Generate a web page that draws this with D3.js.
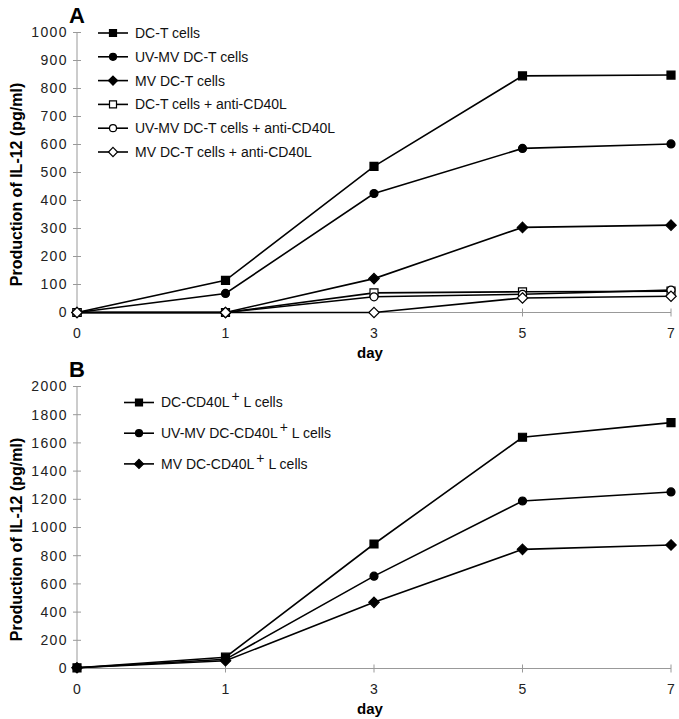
<!DOCTYPE html>
<html>
<head>
<meta charset="utf-8">
<script src="https://cdn.jsdelivr.net/npm/d3@7"></script>
<style>
  body { margin: 0; background: #fff; }
  svg { font-family: "Liberation Sans", Arial, sans-serif; }
</style>
</head>
<body>
<div id="chart"></div>
<script>
// days are drawn as evenly spaced categories
const days = ['0', '1', '3', '5', '7'];

// panel A
const namesA = [
    'DC-T cells',
    'UV-MV DC-T cells',
    'MV DC-T cells',
    'DC-T cells + anti-CD40L',
    'UV-MV DC-T cells + anti-CD40L',
    'MV DC-T cells + anti-CD40L'
];
const dcT = [0, 115, 522, 845, 848];
const uvmvDcT = [0, 68, 425, 586, 602];
const mvDcT = [0, 0, 121, 304, 312];
const dcTAnti = [0, 0, 70, 74, 76];
const uvmvDcTAnti = [0, 0, 56, 65, 80];
const mvDcTAnti = [0, 0, 0, 52, 58];
const ticksA = [0, 100, 200, 300, 400, 500, 600, 700, 800, 900, 1000];

// panel B
const namesB = [
    'DC-CD40L',
    'UV-MV DC-CD40L',
    'MV DC-CD40L'
];
const dcL = [5, 80, 883, 1640, 1744];
const uvmvDcL = [5, 65, 655, 1188, 1252];
const mvDcL = [5, 55, 469, 845, 876];
const ticksB = [0, 200, 400, 600, 800, 1000, 1200, 1400, 1600, 1800, 2000];

const markers = ['square', 'circle', 'diamond', 'square', 'circle', 'diamond'];
const filled = [true, true, true, false, false, false];

const svg = d3.select('#chart').append('svg')
    .attr('width', 679)
    .attr('height', 719);

function drawMarker(g, type, fill, x, y, s) {
    const m = g.append('path')
        .attr('transform', `translate(${x},${y})`)
        .attr('fill', fill ? '#000' : '#fff')
        .attr('stroke', '#000')
        .attr('stroke-width', 1.2);
    if (type === 'square') {
        m.attr('d', `M${-s},${-s}H${s}V${s}H${-s}Z`);
    } else if (type === 'circle') {
        m.attr('d', d3.symbol(d3.symbolCircle, Math.PI * s * s)());
    } else {
        const r = s * 1.3;
        m.attr('d', `M0,${-r}L${r},0L0,${r}L${-r},0Z`);
    }
}

function panel(cfg) {
    const g = svg.append('g');
    const x = d3.scalePoint().domain(days).range([77, 671]);
    const y = d3.scaleLinear().domain([0, cfg.max]).range([cfg.bottom, cfg.top]);

    // y axis
    g.append('line')
        .attr('x1', 77).attr('x2', 77)
        .attr('y1', y(cfg.max)).attr('y2', y(0))
        .attr('stroke', '#999').attr('stroke-width', 1);
    cfg.ticks.forEach(t => {
        g.append('line')
            .attr('x1', 73).attr('x2', 81)
            .attr('y1', y(t)).attr('y2', y(t))
            .attr('stroke', '#999');
        g.append('text')
            .attr('x', 68).attr('y', y(t))
            .attr('dy', '0.35em')
            .attr('text-anchor', 'end')
            .attr('font-size', 14)
            .attr('letter-spacing', 1.4)
            .attr('fill', '#222')
            .text(t);
    });

    // x axis
    g.append('line')
        .attr('x1', 77).attr('x2', 671)
        .attr('y1', y(0)).attr('y2', y(0))
        .attr('stroke', '#999');
    days.forEach(d => {
        g.append('line')
            .attr('x1', x(d)).attr('x2', x(d))
            .attr('y1', y(0) - 4).attr('y2', y(0) + 4)
            .attr('stroke', '#999');
        g.append('text')
            .attr('x', x(d)).attr('y', y(0) + 25)
            .attr('text-anchor', 'middle')
            .attr('font-size', 14)
            .attr('fill', '#222')
            .text(d);
    });
    g.append('text')
        .attr('x', 370).attr('y', y(0) + 45)
        .attr('text-anchor', 'middle')
        .attr('font-size', 15)
        .attr('font-weight', 'bold')
        .text('day');

    g.append('text')
        .attr('transform', `translate(22,${(y(0) + y(cfg.max)) / 2 + 12}) rotate(-90)`)
        .attr('text-anchor', 'middle')
        .attr('font-size', 16)
        .attr('font-weight', 'bold')
        .text('Production of IL-12 (pg/ml)');

    g.append('text')
        .attr('x', 77).attr('y', cfg.top - 10)
        .attr('text-anchor', 'middle')
        .attr('font-size', 22)
        .attr('font-weight', 'bold')
        .text(cfg.label);

    // series
    const line = d3.line().x((d, i) => x(days[i])).y(d => y(d));
    cfg.series.forEach((vals, k) => {
        g.append('path')
            .attr('d', line(vals))
            .attr('fill', 'none')
            .attr('stroke', '#000')
            .attr('stroke-width', 1.6);
    });
    cfg.series.forEach((vals, k) => {
        vals.forEach((v, i) => drawMarker(g, markers[k], filled[k], x(days[i]), y(v), cfg.ms));
    });

    // legend
    cfg.names.forEach((n, k) => {
        const ly = cfg.legY + k * cfg.legStep;
        g.append('line')
            .attr('x1', cfg.legX).attr('x2', cfg.legX + 30)
            .attr('y1', ly).attr('y2', ly)
            .attr('stroke', '#000').attr('stroke-width', 1.6);
        drawMarker(g, markers[k], filled[k], cfg.legX + 15, ly, cfg.ms - 0.5);
        const t = g.append('text')
            .attr('x', cfg.legX + 37).attr('y', ly)
            .attr('dy', '0.35em')
            .attr('font-size', 14)
            .attr('fill', '#111')
            .text(n);
        if (cfg.sup) {
            t.append('tspan').attr('dx', 2).attr('dy', '-0.45em').attr('font-size', 14).text('+');
            t.append('tspan').attr('dy', '0.45em').text(' L cells');
        }
    });
}

panel({
    label: 'A', max: 1000, top: 32.5, bottom: 312.5, ticks: ticksA,
    series: [dcT, uvmvDcT, mvDcT, dcTAnti, uvmvDcTAnti, mvDcTAnti],
    names: namesA, legX: 98, legY: 33, legStep: 23.8, ms: 4, sup: false
});

panel({
    label: 'B', max: 2000, top: 386.5, bottom: 668.5, ticks: ticksB,
    series: [dcL, uvmvDcL, mvDcL],
    names: namesB, legX: 124, legY: 402.5, legStep: 30.7, ms: 4, sup: true
});
</script>
</body>
</html>
